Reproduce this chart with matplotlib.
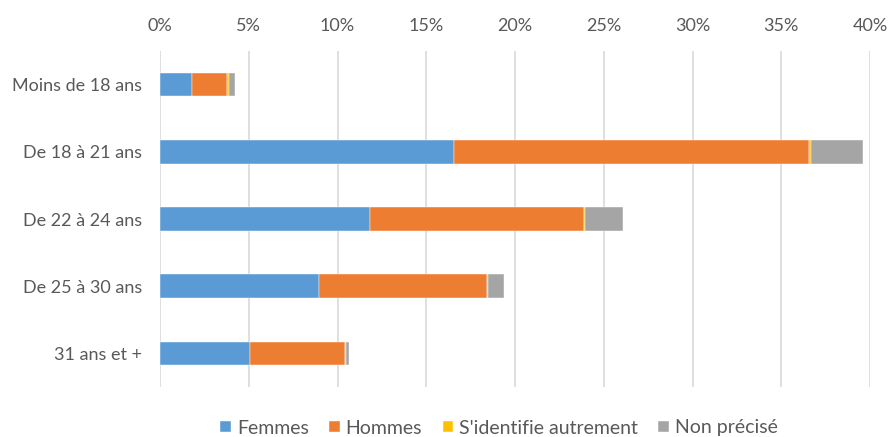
import matplotlib.pyplot as plt
import numpy as np

plt.rcParams['font.family'] = ['Lato', 'DejaVu Sans']

categories = ["Moins de 18 ans", "De 18 à 21 ans", "De 22 à 24 ans", "De 25 à 30 ans", "31 ans et +"]
series_names = ["Femmes", "Hommes", "S'identifie autrement", "Non précisé"]
femmes = [1.80, 16.56, 11.85, 8.96, 5.05]
hommes = [2.00, 20.02, 12.02, 9.48, 5.37]
autrement = [0.07, 0.08, 0.07, 0.04, 0.06]
non_precise = [0.37, 2.94, 2.16, 0.88, 0.17]
colors = ["#5B9BD5", "#ED7D31", "#FFC000", "#A5A5A5"]
xticks = [0, 5, 10, 15, 20, 25, 30, 35, 40]

fig = plt.figure(figsize=(8.88, 4.37), dpi=100)
ax = fig.add_axes([160 / 888, 1 - 387 / 437, 710 / 888, 336 / 437])

y = np.arange(len(categories))
left = np.zeros(len(categories))
for name, vals, c in zip(series_names, [femmes, hommes, autrement, non_precise], colors):
    ax.barh(y, vals, left=left, height=0.35, color=c, label=name,
            edgecolor="white", linewidth=0.3)
    left += np.array(vals)

ax.set_xlim(0, 40)
ax.set_ylim(len(categories) - 0.5, -0.5)
ax.set_yticks(y)
ax.set_yticklabels(categories)
ax.set_xticks(xticks)
ax.set_xticklabels([f"{t}%" for t in xticks])
ax.xaxis.tick_top()
ax.tick_params(axis="both", length=0, labelsize=13, labelcolor="#595959")
ax.tick_params(axis="x", pad=12)
ax.tick_params(axis="y", pad=13)
ax.grid(axis="x", color="#D9D9D9", linewidth=1.2)
ax.set_axisbelow(True)
for s in ax.spines.values():
    s.set_visible(False)

leg = fig.legend(loc="center", bbox_to_anchor=(499 / 888, 1 - 428 / 437), ncol=4, frameon=False,
                 fontsize=14, handlelength=0.55, handleheight=0.55, handletextpad=0.3,
                 columnspacing=1.05, labelcolor="#595959")

fig.savefig("out.png", dpi=100)
